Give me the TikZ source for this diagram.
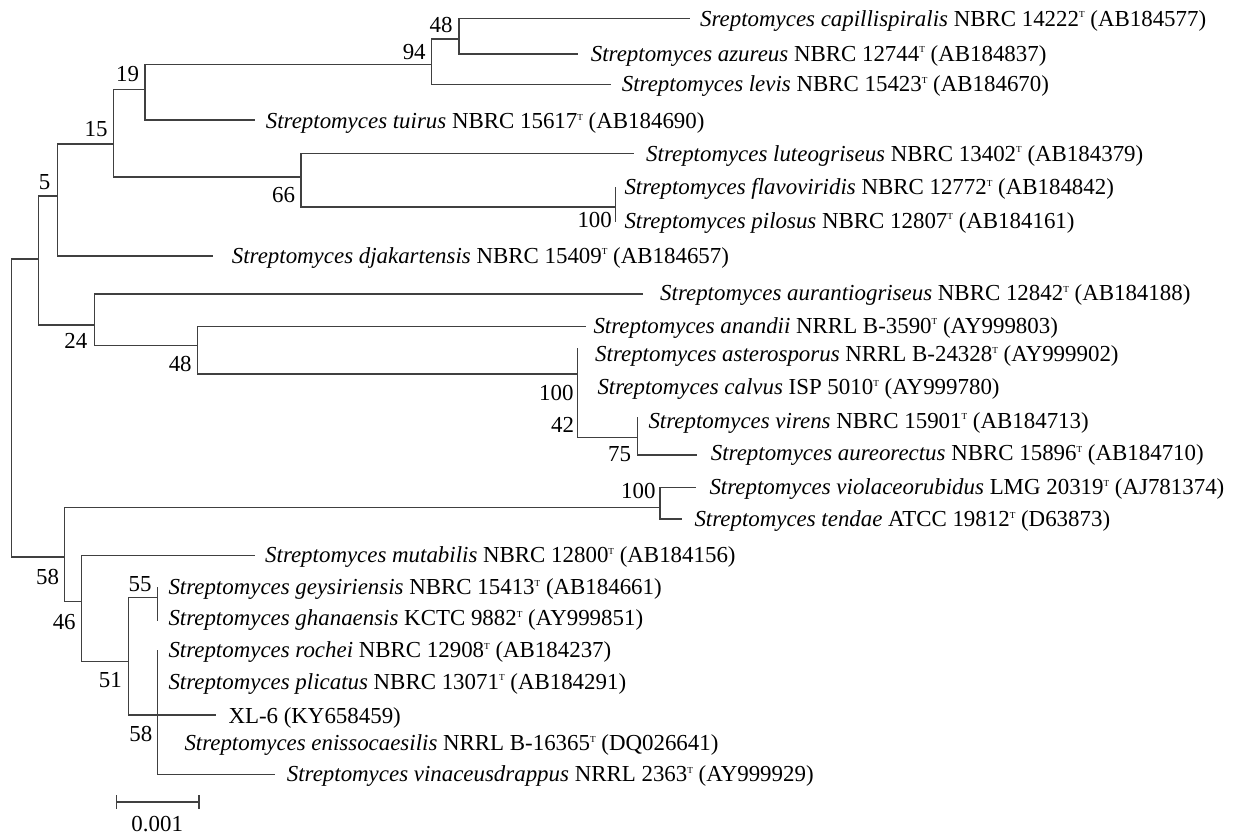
\documentclass[tikz,border=0pt]{standalone}
\usepackage{fontspec}
\setmainfont{Liberation Serif}
\usepackage{tikz}
\newcommand{\typestr}{\raisebox{8.6pt}{\fontsize{9.2}{9}\selectfont T}}
\tikzstyle{branch} = [line width=1.3pt, draw=black!75]
\tikzstyle{leaf} = [anchor=base west, inner sep=0pt, yshift=-7.6pt]
\tikzstyle{boot} = [inner sep=0pt]

\begin{document}
\begin{tikzpicture}[x=1pt, y=-1pt, font=\fontsize{22.9}{27}\selectfont]
                            \useasboundingbox (0,0) rectangle (1233,835);
                            % inner nodes
                            \coordinate (0) at (11.7,408);
                            \coordinate (1) at (38.3,259);
                            \coordinate (2) at (57.3,196);
                            \coordinate (3) at (113.3,144);
                            \coordinate (4) at (145,89.7);
                            \coordinate (5) at (431.7,64.3);
                            \coordinate (6) at (459,39);
                            \coordinate (7) at (301,177);
                            \coordinate (8) at (615.7,207);
                            \coordinate (9) at (94.3,325);
                            \coordinate (10) at (197.7,345.7);
                            \coordinate (11) at (577.7,374);
                            \coordinate (12) at (637.7,437.3);
                            \coordinate (13) at (64.7,557);
                            \coordinate (14) at (660,507.7);
                            \coordinate (15) at (81.7,601.7);
                            \coordinate (16) at (128.7,661.7);
                            \coordinate (17) at (157.7,597.3);
                            \coordinate (18) at (157.7,715);
                            % tips
                            \coordinate (t1) at (690,18.7);
                            \coordinate (t2) at (578.3,54);
                            \coordinate (t3) at (610.7,84.7);
                            \coordinate (t4) at (255,120);
                            \coordinate (t5) at (634.3,153.7);
                            \coordinate (t6) at (615.7,187.3);
                            \coordinate (t7) at (615.7,221.7);
                            \coordinate (t8) at (212.7,256);
                            \coordinate (t9) at (643.3,294);
                            \coordinate (t10) at (585.7,326.7);
                            \coordinate (t11) at (577.7,348.3);
                            \coordinate (t13) at (637.7,417.3);
                            \coordinate (t14) at (696.7,455);
                            \coordinate (t15) at (696,487.3);
                            \coordinate (t16) at (681.7,519);
                            \coordinate (t17) at (255,555.7);
                            \coordinate (t18) at (157.7,586.7);
                            \coordinate (t19) at (157.7,621);
                            \coordinate (t20) at (157.7,650);
                            \coordinate (t22) at (216,715);
                            \coordinate (t24) at (275,774.3);
                            % branches
                            \draw [branch] (0) |- (1);
                            \draw [branch] (0) |- (13);
                            \draw [branch] (1) |- (2);
                            \draw [branch] (1) |- (9);
                            \draw [branch] (2) |- (3);
                            \draw [branch] (2) |- (t8);
                            \draw [branch] (3) |- (4);
                            \draw [branch] (3) |- (7);
                            \draw [branch] (4) |- (5);
                            \draw [branch] (4) |- (t4);
                            \draw [branch] (5) |- (6);
                            \draw [branch] (5) |- (t3);
                            \draw [branch] (6) |- (t1);
                            \draw [branch] (6) |- (t2);
                            \draw [branch] (7) |- (t5);
                            \draw [branch] (7) |- (8);
                            \draw [branch] (8) |- (t6);
                            \draw [branch] (8) |- (t7);
                            \draw [branch] (9) |- (t9);
                            \draw [branch] (9) |- (10);
                            \draw [branch] (10) |- (t10);
                            \draw [branch] (10) |- (11);
                            \draw [branch] (11) |- (t11);
                            \draw [branch] (11) |- (12);
                            \draw [branch] (12) |- (t13);
                            \draw [branch] (12) |- (t14);
                            \draw [branch] (13) |- (14);
                            \draw [branch] (13) |- (15);
                            \draw [branch] (14) |- (t15);
                            \draw [branch] (14) |- (t16);
                            \draw [branch] (15) |- (t17);
                            \draw [branch] (15) |- (16);
                            \draw [branch] (16) |- (17);
                            \draw [branch] (16) |- (t22);
                            \draw [branch] (17) |- (t18);
                            \draw [branch] (17) |- (t19);
                            \draw [branch] (18) |- (t20);
                            \draw [branch] (18) |- (t24);
                            % species
                            \node (s1) [leaf] at (700,18.7) {\textit{Sreptomyces capillispiralis} NBRC 14222\typestr{} (AB184577)};
                            \node (s2) [leaf] at (590.7,53.5) {\textit{Streptomyces azureus} NBRC 12744\typestr{} (AB184837)};
                            \node (s3) [leaf] at (621.7,84.3) {\textit{Streptomyces levis} NBRC 15423\typestr{} (AB184670)};
                            \node (s4) [leaf] at (265.7,121) {\textit{Streptomyces tuirus} NBRC 15617\typestr{} (AB184690)};
                            \node (s5) [leaf] at (646,153.5) {\textit{Streptomyces luteogriseus} NBRC 13402\typestr{} (AB184379)};
                            \node (s6) [leaf] at (624.3,187.3) {\textit{Streptomyces flavoviridis} NBRC 12772\typestr{} (AB184842)};
                            \node (s7) [leaf] at (624.3,220.7) {\textit{Streptomyces pilosus} NBRC 12807\typestr{} (AB184161)};
                            \node (s8) [leaf] at (231.7,255.7) {\textit{Streptomyces djakartensis} NBRC 15409\typestr{} (AB184657)};
                            \node (s9) [leaf] at (660,293) {\textit{Streptomyces aurantiogriseus} NBRC 12842\typestr{} (AB184188)};
                            \node (s10) [leaf] at (593.3,325.5) {\textit{Streptomyces anandii} NRRL B-3590\typestr{} (AY999803)};
                            \node (s11) [leaf] at (595,354) {\textit{Streptomyces asterosporus} NRRL B-24328\typestr{} (AY999902)};
                            \node (s12) [leaf] at (597.3,387.3) {\textit{Streptomyces calvus} ISP 5010\typestr{} (AY999780)};
                            \node (s13) [leaf] at (648.3,420.7) {\textit{Streptomyces virens} NBRC 15901\typestr{} (AB184713)};
                            \node (s14) [leaf] at (710.7,453.3) {\textit{Streptomyces aureorectus} NBRC 15896\typestr{} (AB184710)};
                            \node (s15) [leaf] at (709.3,487.3) {\textit{Streptomyces violaceorubidus} LMG 20319\typestr{} (AJ781374)};
                            \node (s16) [leaf] at (694.3,519) {\textit{Streptomyces tendae} ATCC 19812\typestr{} (D63873)};
                            \node (s17) [leaf] at (265,555.3) {\textit{Streptomyces mutabilis} NBRC 12800\typestr{} (AB184156)};
                            \node (s18) [leaf] at (168.3,587.3) {\textit{Streptomyces geysiriensis} NBRC 15413\typestr{} (AB184661)};
                            \node (s19) [leaf] at (168.3,618.3) {\textit{Streptomyces ghanaensis} KCTC 9882\typestr{} (AY999851)};
                            \node (s20) [leaf] at (168.3,650) {\textit{Streptomyces rochei} NBRC 12908\typestr{} (AB184237)};
                            \node (s21) [leaf] at (168.3,681.7) {\textit{Streptomyces plicatus} NBRC 13071\typestr{} (AB184291)};
                            \node (s22) [leaf] at (228.3,715.7) {XL-6 (KY658459)};
                            \node (s23) [leaf] at (184.3,743.3) {\textit{Streptomyces enissocaesilis} NRRL B-16365\typestr{} (DQ026641)};
                            \node (s24) [leaf] at (286.7,774.3) {\textit{Streptomyces vinaceusdrappus} NRRL 2363\typestr{} (AY999929)};
                            % bootstrap values
                            \node (b1) [boot] at (441,24.8) {48};
                            \node (b2) [boot] at (414.2,52.2) {94};
                            \node (b3) [boot] at (127.5,74.5) {19};
                            \node (b4) [boot] at (96,128.8) {15};
                            \node (b5) [boot] at (44.7,181.7) {5};
                            \node (b6) [boot] at (283.5,195.3) {66};
                            \node (b7) [boot] at (594.7,220.3) {100};
                            \node (b8) [boot] at (75.8,341.2) {24};
                            \node (b9) [boot] at (180.2,364.2) {48};
                            \node (b10) [boot] at (556.3,392.7) {100};
                            \node (b11) [boot] at (562.5,425.3) {42};
                            \node (b12) [boot] at (619.5,453.7) {75};
                            \node (b13) [boot] at (638.3,491.3) {100};
                            \node (b14) [boot] at (47.5,577.2) {58};
                            \node (b15) [boot] at (64.2,622.2) {46};
                            \node (b16) [boot] at (140,584.2) {55};
                            \node (b17) [boot] at (110.3,680.3) {51};
                            \node (b18) [boot] at (140.8,733.7) {58};
                            % scale bar
                            \coordinate (sb1) at (116.7,802);
                            \coordinate (sb2) at (199,802);
                            \draw [branch] (sb1) -- (sb2);
                            \draw [branch] ([yshift=7pt]sb1) -- ([yshift=-7pt]sb1);
                            \draw [branch] ([yshift=7pt]sb2) -- ([yshift=-7pt]sb2);
                            \node (sbl) [boot] at (157.2,823.7) {0.001};
                        \end{tikzpicture}
\end{document}
